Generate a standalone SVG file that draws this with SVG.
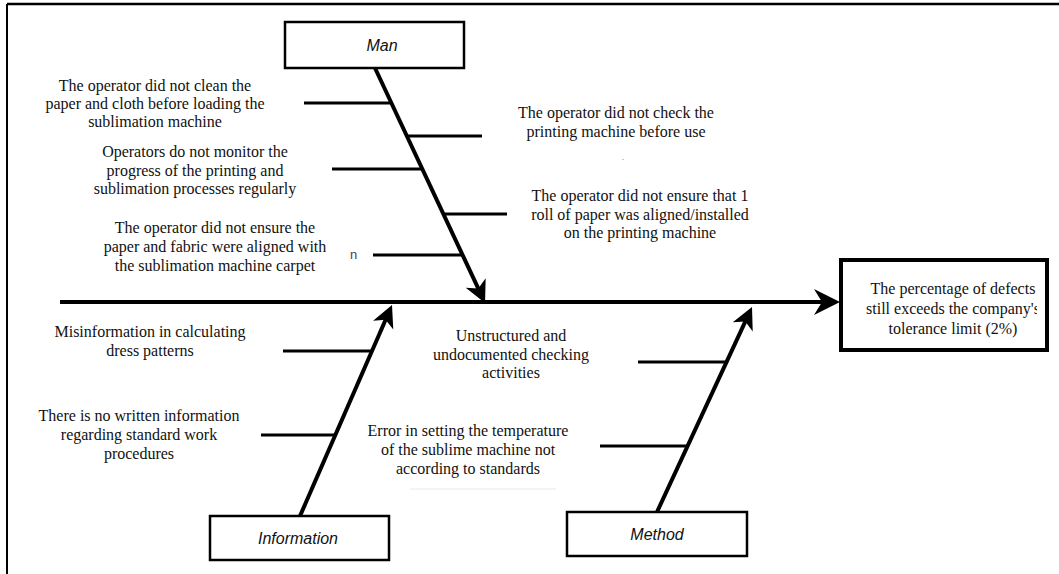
<svg xmlns="http://www.w3.org/2000/svg" width="1059" height="574" viewBox="0 0 1059 574">
  <style>
    .lbl { font-family: "Liberation Serif", "Times New Roman", serif; font-size: 16px; fill: #111; text-anchor: middle; }
    .cat { font-family: "Liberation Sans", Arial, sans-serif; font-size: 16px; font-style: italic; fill: #111; text-anchor: middle; }
    .box { fill: #fff; stroke: #000; stroke-width: 2.5; }
    .bone { stroke: #000; stroke-width: 4; fill: none; }
    .branch { stroke: #000; stroke-width: 3; fill: none; }
  </style>
  <defs>
    <marker id="headBig" markerUnits="userSpaceOnUse" viewBox="-20 -15 35 30" markerWidth="35" markerHeight="30" refX="0" refY="0" orient="auto">
      <path d="M10,0 L-16,-13 L-8,0 L-16,13 Z" fill="#000"/>
    </marker>
    <marker id="head" markerUnits="userSpaceOnUse" viewBox="-20 -15 35 30" markerWidth="35" markerHeight="30" refX="0" refY="0" orient="auto">
      <path d="M10,0 L-12,-11 L-6,0 L-12,11 Z" fill="#000"/>
    </marker>
    <clipPath id="effClip"><rect x="843" y="262" width="194" height="86"/></clipPath>
  </defs>
  <rect x="0" y="0" width="1059" height="574" fill="#fff"/>

  <!-- frame -->
  <g id="frame">
    <line x1="7" y1="4" x2="1059" y2="4" stroke="#000" stroke-width="2.5"/>
    <line x1="7" y1="4" x2="7" y2="574" stroke="#000" stroke-width="2"/>
  </g>

  <!-- connectors -->
  <g id="connectors">
    <line class="bone" x1="60" y1="302" x2="830" y2="302" marker-end="url(#headBig)"/>
    <line class="bone" x1="375" y1="68" x2="480.8" y2="293.9" marker-end="url(#head)"/>
    <line class="bone" x1="300" y1="516" x2="388" y2="314.2" marker-end="url(#head)"/>
    <line class="bone" x1="657" y1="512" x2="747.8" y2="316.1" marker-end="url(#head)"/>
    <!-- Man branches -->
    <line class="branch" x1="304" y1="103" x2="391" y2="103"/>
    <line class="branch" x1="332" y1="169" x2="422" y2="169"/>
    <line class="branch" x1="373" y1="255" x2="462" y2="255"/>
    <line class="branch" x1="407" y1="136" x2="482" y2="136"/>
    <line class="branch" x1="443" y1="214" x2="507" y2="214"/>
    <!-- Information branches -->
    <line class="branch" x1="283" y1="351" x2="371" y2="351"/>
    <line class="branch" x1="261" y1="435" x2="334" y2="435"/>
    <!-- Method branches -->
    <line class="branch" x1="638" y1="362" x2="726" y2="362"/>
    <line class="branch" x1="600" y1="446" x2="688" y2="446"/>
  </g>

  <!-- category nodes -->
  <g id="node-man">
    <rect class="box" x="285" y="22" width="179" height="46"/>
    <text class="cat" x="382" y="51">Man</text>
  </g>
  <g id="node-information">
    <rect class="box" x="210" y="516" width="179" height="44"/>
    <text class="cat" x="298" y="544">Information</text>
  </g>
  <g id="node-method">
    <rect class="box" x="567" y="512" width="180" height="44"/>
    <text class="cat" x="657" y="540">Method</text>
  </g>

  <!-- effect -->
  <g id="node-effect">
    <rect x="841" y="260" width="206" height="90" fill="#fff" stroke="#000" stroke-width="4"/>
    <g clip-path="url(#effClip)">
      <text class="lbl" x="953" y="294">The percentage of defects</text>
      <text class="lbl" x="953" y="314">still exceeds the company's</text>
      <text class="lbl" x="953" y="334">tolerance limit (2%)</text>
    </g>
  </g>

  <!-- cause labels -->
  <g id="cause-man-1">
    <text class="lbl" x="155" y="91">The operator did not clean the</text>
    <text class="lbl" x="155" y="109">paper and cloth before loading the</text>
    <text class="lbl" x="155" y="127">sublimation machine</text>
  </g>
  <g id="cause-man-2">
    <text class="lbl" x="195" y="157">Operators do not monitor the</text>
    <text class="lbl" x="195" y="175.5">progress of the printing and</text>
    <text class="lbl" x="195" y="194">sublimation processes regularly</text>
  </g>
  <g id="cause-man-3">
    <text class="lbl" x="215" y="233">The operator did not ensure the</text>
    <text class="lbl" x="215" y="252">paper and fabric were aligned with</text>
    <text class="lbl" x="215" y="271">the sublimation machine carpet</text>
  </g>
  <text x="350" y="259" font-family="Liberation Sans, Arial, sans-serif" font-size="13" fill="#444">n</text>
  <g id="cause-man-4">
    <text class="lbl" x="616" y="118">The operator did not check the</text>
    <text class="lbl" x="616" y="137">printing machine before use</text>
  </g>
  <text x="622" y="160" font-family="Liberation Serif, serif" font-size="8" fill="#555">.</text>
  <g id="cause-man-5">
    <text class="lbl" x="640" y="201">The operator did not ensure that 1</text>
    <text class="lbl" x="640" y="219.5">roll of paper was aligned/installed</text>
    <text class="lbl" x="640" y="238">on the printing machine</text>
  </g>
  <g id="cause-info-1">
    <text class="lbl" x="150" y="337">Misinformation in calculating</text>
    <text class="lbl" x="150" y="356">dress patterns</text>
  </g>
  <g id="cause-info-2">
    <text class="lbl" x="139" y="421">There is no written information</text>
    <text class="lbl" x="139" y="440">regarding standard work</text>
    <text class="lbl" x="139" y="459">procedures</text>
  </g>
  <g id="cause-method-1">
    <text class="lbl" x="511" y="341">Unstructured and</text>
    <text class="lbl" x="511" y="359.5">undocumented checking</text>
    <text class="lbl" x="511" y="378">activities</text>
  </g>
  <g id="cause-method-2">
    <text class="lbl" x="468" y="436">Error in setting the temperature</text>
    <text class="lbl" x="468" y="455">of the sublime machine not</text>
    <text class="lbl" x="468" y="474">according to standards</text>
    <line x1="410" y1="489" x2="556" y2="489" stroke="#f0f0f0" stroke-width="1.5"/>
  </g>
</svg>
